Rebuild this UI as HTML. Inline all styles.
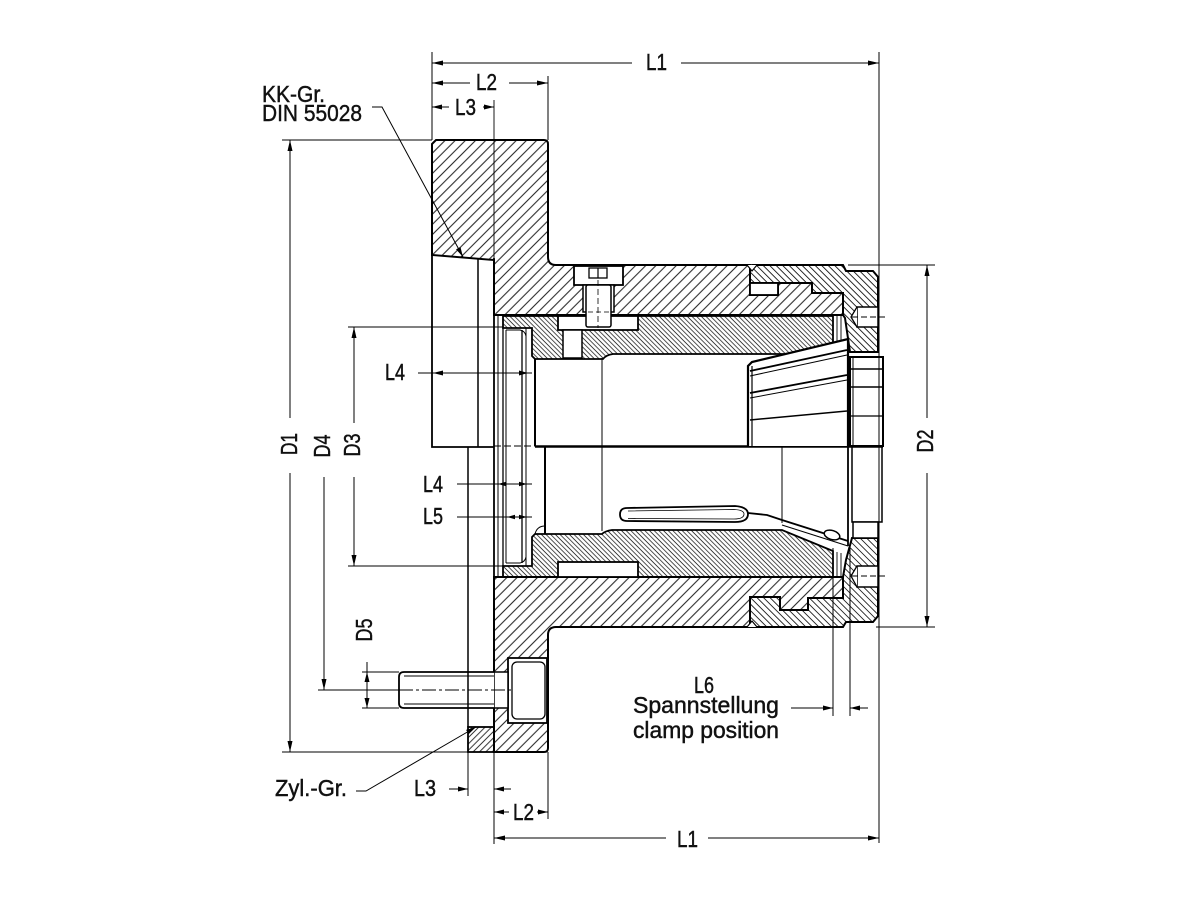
<!DOCTYPE html>
<html><head><meta charset="utf-8"><style>
html,body{margin:0;padding:0;background:#fff;}
svg{display:block;}
text{font-family:"Liberation Sans",Arial,sans-serif;font-size:23px;fill:#111;stroke:#111;stroke-width:0.45;}
</style></head><body>
<svg width="1200" height="900" viewBox="0 0 1200 900" xmlns="http://www.w3.org/2000/svg">
<defs>
<pattern id="hb" width="7.2" height="10" patternUnits="userSpaceOnUse" patternTransform="rotate(45)"><line x1="3.6" y1="-1" x2="3.6" y2="11" stroke="#000" stroke-width="0.9"/></pattern>
<pattern id="hn" width="4.6" height="10" patternUnits="userSpaceOnUse" patternTransform="rotate(-45)"><line x1="2.3" y1="-1" x2="2.3" y2="11" stroke="#000" stroke-width="0.8"/></pattern>
<pattern id="hs" width="3.3" height="10" patternUnits="userSpaceOnUse" patternTransform="rotate(-45)"><line x1="1.6" y1="-1" x2="1.6" y2="11" stroke="#000" stroke-width="0.7"/></pattern>
<pattern id="hz" width="4.5" height="10" patternUnits="userSpaceOnUse" patternTransform="rotate(45)"><line x1="2.2" y1="-1" x2="2.2" y2="11" stroke="#000" stroke-width="0.8"/></pattern>
</defs>

<!-- ===== hatched regions ===== -->
<path d="M503,316 L833,316 L833,343 L790,354 L613,354 Q606,355 603,359 L535,359 L532,356 L532,328 L503,328 Z" fill="url(#hs)" stroke="#000" stroke-width="1.8"/>
<path d="M503,577 L833,577 L833,551 L782,530 L612,530 Q605,531 602,534 L535,534 L532,537 L532,566 L503,566 Z" fill="url(#hs)" stroke="#000" stroke-width="1.8"/>
<path d="M432,144 L436,140 L544,140 Q548,140 548,144 L548,257 Q548,265 556,265 L750,265 L750,295 L778,295 L778,283 L812,283 L812,293 L843,293 L843,315 L494,315 L494,260 L432,255 Z" fill="url(#hb)" stroke="#000" stroke-width="2"/>
<path d="M494,577 L843,577 L843,598 L808,598 L808,610 L780,610 L780,597 L750,597 L750,627 L556,627 Q548,627 548,635 L548,748 Q548,752 544,752 L494,752 Z" fill="url(#hb)" stroke="#000" stroke-width="2"/>
<path d="M752,265 L843,265 L846,271 L873,271 L878,277 L878,352 L850,352 L845,318 L843,315 L843,293 L812,293 L812,283 L750,283 L750,270 Z" fill="url(#hn)" stroke="#000" stroke-width="2"/>
<path d="M750,597 L780,597 L780,610 L808,610 L808,598 L843,598 L843,577 L846,560 L852,538 L878,538 L878,616 L873,622 L846,622 L843,627 L750,627 Z" fill="url(#hn)" stroke="#000" stroke-width="2"/>
<rect x="468" y="727" width="26" height="25" fill="url(#hz)" stroke="#000" stroke-width="1.8"/>

<path d="M747,265 L752,271 L757,265" fill="#fff" stroke="#000" stroke-width="1.2"/>
<path d="M747,627 L752,621 L757,627" fill="#fff" stroke="#000" stroke-width="1.2"/>

<rect x="750" y="283" width="28" height="12" fill="#fff" stroke="#000" stroke-width="1.8"/>
<rect x="558" y="316" width="80" height="14" fill="#fff" stroke="#000" stroke-width="1.8"/>
<rect x="563" y="330" width="19" height="28" fill="#fff" stroke="#000" stroke-width="1.5"/>
<rect x="558" y="562" width="80" height="15" fill="#fff" stroke="#000" stroke-width="1.8"/>
<rect x="574" y="266" width="49" height="19" fill="#fff" stroke="#000" stroke-width="1.8"/>
<rect x="589" y="268" width="18" height="10" fill="#fff" stroke="#000" stroke-width="1.3"/>
<line x1="598" y1="268" x2="598" y2="278" stroke="#000" stroke-width="1.2"/>
<rect x="583" y="285" width="31" height="27" fill="#fff" stroke="#000" stroke-width="1.5"/>
<rect x="586" y="285" width="25" height="42" rx="2" fill="#fff" stroke="#000" stroke-width="1.5"/>
<line x1="598" y1="280" x2="598" y2="328" stroke="#000" stroke-width="0.8" stroke-dasharray="6,3"/>
<line x1="588" y1="312" x2="609" y2="312" stroke="#000" stroke-width="0.8" stroke-dasharray="5,3"/>
<rect x="857" y="307" width="21" height="20" fill="#fff" stroke="#000" stroke-width="1.5"/>
<path d="M857,307 L851,317 L857,327" fill="#fff" stroke="#000" stroke-width="1.3"/>
<line x1="852" y1="317" x2="886" y2="317" stroke="#000" stroke-width="1" stroke-dasharray="6,3"/>
<rect x="857" y="566" width="21" height="21" fill="#fff" stroke="#000" stroke-width="1.5"/>
<path d="M857,566 L851,576 L857,587" fill="#fff" stroke="#000" stroke-width="1.3"/>
<line x1="852" y1="576" x2="886" y2="576" stroke="#000" stroke-width="1" stroke-dasharray="6,3"/>
<rect x="508" y="658" width="39" height="65" fill="#fff" stroke="#000" stroke-width="1.8"/>
<rect x="512" y="662" width="33" height="57" rx="5" fill="#fff" stroke="#000" stroke-width="1.3"/>
<rect x="494" y="672" width="14" height="36" fill="#fff" stroke="#000" stroke-width="1.5"/>
<path d="M494,672 L404,672 Q399,672 399,677 L399,703 Q399,708 404,708 L494,708" fill="#fff" stroke="#000" stroke-width="1.8"/>
<line x1="404" y1="676" x2="494" y2="676" stroke="#000" stroke-width="0.9"/>
<line x1="404" y1="704" x2="494" y2="704" stroke="#000" stroke-width="0.9"/>

<g stroke="#000" fill="none">
<path d="M432,255 L432,447 L494,447" stroke-width="1.8"/>
<line x1="478" y1="259" x2="478" y2="447" stroke-width="1.5"/>
<line x1="468" y1="447" x2="468" y2="727" stroke-width="1.5"/>
<line x1="494" y1="258" x2="494" y2="577" stroke-width="1.8"/>
<line x1="494" y1="100" x2="494" y2="258" stroke-width="0.9"/>
<line x1="498" y1="316" x2="498" y2="577" stroke-width="1"/>
<line x1="503" y1="328" x2="503" y2="566" stroke-width="1.3"/>
<line x1="506" y1="330" x2="506" y2="563" stroke-width="1"/>
<line x1="522" y1="330" x2="522" y2="563" stroke-width="1.3"/>
<line x1="526" y1="328" x2="526" y2="566" stroke-width="1"/>
<path d="M506,330 L520,330 Q525,331 526,336" stroke-width="1"/>
<path d="M506,563 L520,563 Q525,562 526,557" stroke-width="1"/>
<line x1="494" y1="446" x2="535" y2="446" stroke-width="1" stroke-dasharray="7,3"/>
<line x1="535" y1="359" x2="535" y2="446" stroke-width="2"/>
<line x1="602" y1="358" x2="602" y2="446" stroke-width="1"/>
<line x1="535" y1="446.5" x2="883" y2="446.5" stroke-width="2.5"/>
<line x1="545" y1="447" x2="545" y2="534" stroke-width="2"/>
<path d="M535,534 Q537,526 545,526" stroke-width="1"/>
<line x1="602" y1="447" x2="602" y2="531" stroke-width="1"/>
<line x1="782" y1="447" x2="782" y2="523" stroke-width="1"/>
<line x1="837" y1="316" x2="837" y2="342" stroke-width="0.9"/>
<line x1="841" y1="316" x2="841" y2="341" stroke-width="0.9"/>
<line x1="837" y1="552" x2="837" y2="577" stroke-width="0.9"/>
<line x1="841" y1="553" x2="841" y2="577" stroke-width="0.9"/>
</g>

<g stroke="#000" fill="none">
<path d="M748,446 L748,366 L752,362 L848,339 L848,446" fill="#fff" stroke-width="2.2"/>
<line x1="752" y1="366" x2="752" y2="446" stroke-width="1.2"/>
<line x1="750" y1="371" x2="847" y2="350" stroke-width="1.8"/>
<line x1="750" y1="376" x2="847" y2="355" stroke-width="1"/>
<line x1="750" y1="393" x2="847" y2="375" stroke-width="1.8"/>
<line x1="750" y1="398" x2="847" y2="380" stroke-width="1"/>
<line x1="750" y1="420" x2="847" y2="411" stroke-width="1.5"/>
<rect x="850" y="357" width="33" height="89" fill="#fff" stroke-width="2"/>
<line x1="853" y1="357" x2="853" y2="446" stroke-width="1"/>
<line x1="850" y1="369" x2="883" y2="369" stroke-width="1.5"/>
<line x1="850" y1="387" x2="883" y2="387" stroke-width="1.5"/>
<line x1="850" y1="416" x2="883" y2="416" stroke-width="1.2"/>
<rect x="852" y="447" width="30" height="75" fill="#fff" stroke-width="1.5"/>
<line x1="848" y1="447" x2="848" y2="546" stroke-width="1.8"/>
<rect x="853" y="522" width="25" height="16" fill="#fff" stroke-width="1.5"/>
<path d="M627,508 L735,506 Q748,507 748,514 Q748,522 735,522 L627,521 Q620,521 620,514.5 Q620,508 627,508 Z" stroke-width="1.8"/>
<path d="M628,511 L734,509.5 Q744,510 744,514 Q744,519 734,519 L628,518.5" stroke-width="0.8"/>
<path d="M748,513 L767,515 L782,520 L848,541" stroke-width="1.8"/>
<path d="M782,525 L848,546" stroke-width="1"/>
<ellipse cx="832" cy="535" rx="8" ry="4.5" transform="rotate(17 832 535)" fill="#fff" stroke-width="1.5"/>
</g>

<g stroke="#000" stroke-width="1" fill="none">
<line x1="432" y1="52" x2="432" y2="140"/>
<line x1="548" y1="76" x2="548" y2="140"/>
<line x1="879" y1="52" x2="879" y2="843"/>
<line x1="432" y1="63" x2="632" y2="63"/>
<line x1="681" y1="63" x2="879" y2="63"/>
<line x1="432" y1="83" x2="470" y2="83"/>
<line x1="509" y1="83" x2="548" y2="83"/>
<line x1="432" y1="107" x2="449" y2="107"/>
<line x1="483" y1="107" x2="494" y2="107"/>
<line x1="282" y1="140" x2="432" y2="140"/>
<line x1="282" y1="752" x2="468" y2="752"/>
<line x1="290" y1="140" x2="290" y2="418"/>
<line x1="290" y1="473" x2="290" y2="752"/>
<line x1="348" y1="327" x2="503" y2="327"/>
<line x1="348" y1="566" x2="503" y2="566"/>
<line x1="354" y1="327" x2="354" y2="423"/>
<line x1="354" y1="477" x2="354" y2="566"/>
<line x1="324" y1="477" x2="324" y2="690"/>
<line x1="318" y1="690" x2="399" y2="690"/>
<line x1="399" y1="690" x2="512" y2="690" stroke-dasharray="14,3,3,3"/>
<line x1="362" y1="672" x2="399" y2="672"/>
<line x1="362" y1="708" x2="399" y2="708"/>
<line x1="367" y1="662" x2="367" y2="708"/>
<line x1="848" y1="265" x2="935" y2="265"/>
<line x1="876" y1="627" x2="935" y2="627"/>
<line x1="927" y1="265" x2="927" y2="418"/>
<line x1="927" y1="473" x2="927" y2="627"/>
<line x1="418" y1="373" x2="532" y2="373"/>
<line x1="457" y1="484" x2="532" y2="484"/>
<line x1="457" y1="517" x2="532" y2="517"/>
<line x1="833" y1="548" x2="833" y2="716"/>
<line x1="850" y1="548" x2="850" y2="716"/>
<line x1="791" y1="708" x2="833" y2="708"/>
<line x1="850" y1="708" x2="868" y2="708"/>
<line x1="468" y1="752" x2="468" y2="796"/>
<line x1="494" y1="752" x2="494" y2="844"/>
<line x1="548" y1="752" x2="548" y2="819"/>
<line x1="449" y1="789" x2="468" y2="789"/>
<line x1="494" y1="789" x2="511" y2="789"/>
<line x1="494" y1="812" x2="509" y2="812"/>
<line x1="537" y1="812" x2="548" y2="812"/>
<line x1="494" y1="838" x2="666" y2="838"/>
<line x1="708" y1="838" x2="879" y2="838"/>
<polyline points="372,107 382,107 463,257"/>
<polyline points="356,791 366,791 476,727"/>
</g>

<g fill="#000" stroke="none">
<polygon points="432,63 443,60.5 443,65.5"/>
<polygon points="879,63 868,60.5 868,65.5"/>
<polygon points="432,83 443,80.5 443,85.5"/>
<polygon points="548,83 537,80.5 537,85.5"/>
<polygon points="432,107 442,104.5 442,109.5"/>
<polygon points="494,107 484,104.5 484,109.5"/>
<polygon points="290,140 287.5,151 292.5,151"/>
<polygon points="290,752 287.5,741 292.5,741"/>
<polygon points="354,327 351.5,338 356.5,338"/>
<polygon points="354,566 351.5,555 356.5,555"/>
<polygon points="324,690 321.5,679 326.5,679"/>
<polygon points="367,672 364.5,682 369.5,682"/>
<polygon points="367,708 364.5,698 369.5,698"/>
<polygon points="927,265 924.5,276 929.5,276"/>
<polygon points="927,627 924.5,616 929.5,616"/>
<polygon points="433,373 443,370.5 443,375.5"/>
<polygon points="528,373 519,370.5 519,375.5"/>
<polygon points="498,484 506,481.8 506,486.2"/>
<polygon points="527,484 519,481.8 519,486.2"/>
<polygon points="507,517 515,514.8 515,519.2"/>
<polygon points="527,517 519,514.8 519,519.2"/>
<polygon points="833,708 823,705.5 823,710.5"/>
<polygon points="850,708 860,705.5 860,710.5"/>
<polygon points="468,789 458,786.5 458,791.5"/>
<polygon points="494,789 504,786.5 504,791.5"/>
<polygon points="494,812 504,809.5 504,814.5"/>
<polygon points="548,812 538,809.5 538,814.5"/>
<polygon points="494,838 505,835.5 505,840.5"/>
<polygon points="879,838 868,835.5 868,840.5"/>
<polygon points="463,257 456.05,249.4 460.45,247"/>
<polygon points="476,727 468.6,734.2 466.1,729.9"/>
</g>

<text x="646" y="70" textLength="21" lengthAdjust="spacingAndGlyphs">L1</text>
<text x="476" y="90" textLength="21" lengthAdjust="spacingAndGlyphs">L2</text>
<text x="455" y="115" textLength="21" lengthAdjust="spacingAndGlyphs">L3</text>
<text x="262" y="102" textLength="63" lengthAdjust="spacingAndGlyphs">KK-Gr.</text>
<text x="262" y="121" textLength="100" lengthAdjust="spacingAndGlyphs">DIN 55028</text>
<text x="385" y="380" textLength="20" lengthAdjust="spacingAndGlyphs">L4</text>
<text x="423" y="492" textLength="20" lengthAdjust="spacingAndGlyphs">L4</text>
<text x="423" y="524" textLength="20" lengthAdjust="spacingAndGlyphs">L5</text>
<text transform="translate(297,444) rotate(-90)" text-anchor="middle" textLength="22" lengthAdjust="spacingAndGlyphs">D1</text>
<text transform="translate(330,446) rotate(-90)" text-anchor="middle" textLength="23" lengthAdjust="spacingAndGlyphs">D4</text>
<text transform="translate(360,445) rotate(-90)" text-anchor="middle" textLength="23" lengthAdjust="spacingAndGlyphs">D3</text>
<text transform="translate(372,630) rotate(-90)" text-anchor="middle" textLength="23" lengthAdjust="spacingAndGlyphs">D5</text>
<text transform="translate(933,441) rotate(-90)" text-anchor="middle" textLength="23" lengthAdjust="spacingAndGlyphs">D2</text>
<text x="694" y="693" textLength="20" lengthAdjust="spacingAndGlyphs">L6</text>
<text x="633" y="713" textLength="146" lengthAdjust="spacingAndGlyphs">Spannstellung</text>
<text x="633" y="738" textLength="146" lengthAdjust="spacingAndGlyphs">clamp position</text>
<text x="275" y="796" textLength="72" lengthAdjust="spacingAndGlyphs">Zyl.-Gr.</text>
<text x="414" y="796" textLength="22" lengthAdjust="spacingAndGlyphs">L3</text>
<text x="513" y="820" textLength="21" lengthAdjust="spacingAndGlyphs">L2</text>
<text x="677" y="847" textLength="21" lengthAdjust="spacingAndGlyphs">L1</text>
</svg>
</body></html>
